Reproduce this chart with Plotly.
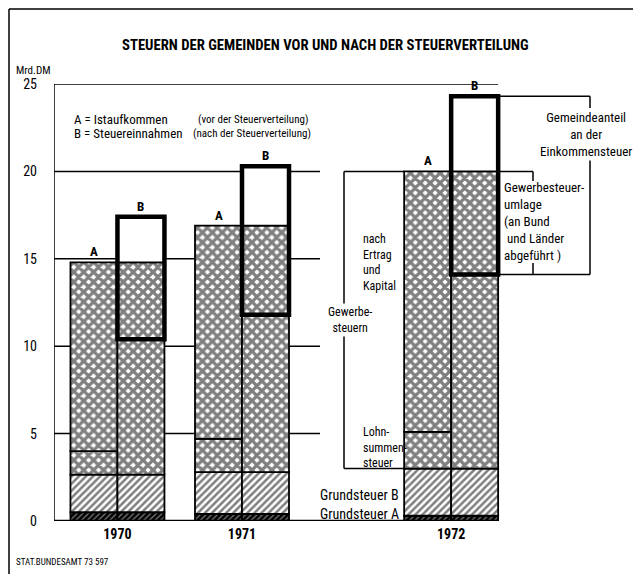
import plotly.graph_objects as go

# Werte in Mrd. DM
years = ['1970', '1971', '1972']
grundsteuer_a = [0.5, 0.4, 0.3]
grundsteuer_b = [2.15, 2.4, 2.7]
lohnsummensteuer = [1.35, 1.9, 2.1]
gewerbesteuer_ek = [10.8, 12.2, 14.9]      # nach Ertrag und Kapital
gewerbesteuerumlage = [4.4, 5.1, 5.9]      # an Bund und Länder abgeführt
gemeindeanteil_est = [2.6, 3.4, 4.3]       # Gemeindeanteil an der Einkommensteuer
y_ticks = [0, 5, 10, 15, 20, 25]

# abgeleitete Höhen
grund_top = [a + b for a, b in zip(grundsteuer_a, grundsteuer_b)]
lohn_top = [g + l for g, l in zip(grund_top, lohnsummensteuer)]
ist_a = [l + g for l, g in zip(lohn_top, gewerbesteuer_ek)]
b_top = [a + g for a, g in zip(ist_a, gemeindeanteil_est)]
box_base = [a - u for a, u in zip(ist_a, gewerbesteuerumlage)]

# Layout: Koordinaten in Pixeln des Fensters; die Seite hat 8px Rand
OFF = 8
W, H = 641 - OFF, 574 - OFF
PL, PT, PB, PR = 54, 84, 521, 641          # Zeichenfläche im Fenster
ML, MT, MB, MR = PL - OFF, PT - OFF, 574 - PB, 0
PW, PH = PR - PL, PB - PT
BAR_PX = 47
Y_MAX = 25
X_MAX = PW / BAR_PX
GROUP_X = [1.35, 4.0, 8.45]
xa = [c - 0.5 for c in GROUP_X]
xb = [c + 0.5 for c in GROUP_X]

FONT = 'Roboto Condensed, Liberation Sans Narrow, DejaVu Sans Condensed, Roboto, sans-serif'


def px(p):
    return (p - PL) / PW


def py(p):
    return (PB - p) / PH


def ux(p):
    return (p - PL) / BAR_PX


def uy(p):
    return (PB - p) / PH * Y_MAX


CROSS = dict(shape='x', size=7, solidity=0.72, fgcolor='black', bgcolor='white')
HATCH = dict(shape='/', size=5, solidity=0.5, fgcolor='black', bgcolor='white')
DARK = dict(shape='/', size=4, solidity=0.3, fgcolor='white', bgcolor='black')


def seg(x, base, h, pattern=None, color='white', lw=1.8):
    return go.Bar(x=x, base=base, y=h, width=1,
                  marker=dict(color=color, pattern=pattern,
                              line=dict(color='black', width=lw)),
                  showlegend=False, hoverinfo='skip')


fig = go.Figure()
fig.add_trace(seg(xa + xb, [0] * 6, grundsteuer_a * 2, DARK, 'black'))
fig.add_trace(seg(xa + xb, grundsteuer_a * 2, grundsteuer_b * 2, HATCH))
fig.add_trace(seg(xa, grund_top, lohnsummensteuer, CROSS))
fig.add_trace(seg(xa, lohn_top, gewerbesteuer_ek, CROSS))
fig.add_trace(seg(xb, grund_top, [i - g for i, g in zip(ist_a, grund_top)], CROSS))
fig.add_trace(seg(xb, ist_a, gemeindeanteil_est))
fig.add_trace(seg(xb, box_base, [u + g for u, g in zip(gewerbesteuerumlage, gemeindeanteil_est)],
                  color='rgba(0,0,0,0)', lw=4.5))

shapes = []


def line(x0, y0, x1, y1, w=1.5, xref='x', yref='y', layer='above'):
    shapes.append(dict(type='line', x0=x0, y0=y0, x1=x1, y1=y1, xref=xref, yref=yref,
                       layer=layer, line=dict(color='black', width=w)))


# Rahmen und Achsen
line(px(OFF + 1), py(OFF + 1), px(OFF + 1), py(574), 1.5, 'paper', 'paper')
line(px(OFF + 1), py(OFF + 1), px(641), py(OFF + 1), 1.5, 'paper', 'paper')
line(0, 0, 0, Y_MAX, 1.5)
line(0, 0, xb[2] + 0.5, 0, 2.5)
line(0, Y_MAX, xb[2] + 0.5, Y_MAX, 1.5)
for t in y_ticks[1:-1]:
    line(0, t, ux(320), t, 1.5, layer='below')

# Klammer links von 1972
line(ux(344), ist_a[2], xa[2] - 0.5, ist_a[2])
line(ux(344), ist_a[2], ux(344), grund_top[2])
line(ux(344), grund_top[2], xa[2] - 0.5, grund_top[2])

# Klammern rechts von 1972
r = xb[2] + 0.5
line(r, b_top[2], ux(590), b_top[2])
line(ux(590), b_top[2], ux(590), uy(108))
line(ux(590), uy(157), ux(590), box_base[2])
line(r, box_base[2], ux(590), box_base[2])
line(r, ist_a[2], ux(533), ist_a[2])
line(ux(533), ist_a[2], ux(533), uy(181))
line(ux(533), uy(263), ux(533), box_base[2])

ann = []


def text(t, x, y, size=13, anchor='left', xref='paper', yref='paper', bg=None, bold=False, **kw):
    if bold:
        t = '<b>' + t + '</b>'
    a = dict(text=t, x=x, y=y, xref=xref, yref=yref, xanchor=anchor, yanchor='middle',
             showarrow=False, font=dict(family=FONT, size=size, color='black'), **kw)
    if bg:
        a['bgcolor'] = bg
    ann.append(a)


text('STEUERN DER GEMEINDEN VOR UND NACH DER STEUERVERTEILUNG', px(325), py(45), 14.7, 'center', bold=True)
text('Mrd.DM', px(14), py(70), 11)
text('STAT.BUNDESAMT 73 597', px(14), py(562), 9)

text('A = Istaufkommen', px(72), py(120), 13)
text('(vor der Steuerverteilung)', px(196), py(120), 11)
text('B = Steuereinnahmen', px(72), py(134), 13)
text('(nach der Steuerverteilung)', px(191), py(134), 11)

# A/B-Beschriftung der Säulen
for i in range(3):
    text('A', xa[i], ist_a[i] + 0.6, 13, 'center', 'x', 'y', bold=True)
    yb = b_top[i] + 0.6
    if yb < Y_MAX:
        text('B', xb[i], yb, 13, 'center', 'x', 'y', bold=True)
    else:
        text('B', xb[i] + 0.05, Y_MAX, 13, 'center', 'x', 'y', bg='white', bold=True)

text('nach<br>Ertrag<br>und<br>Kapital', px(361), py(262), 12, align='left')
text('Gewerbe-<br>steuern', px(350), py(320), 12, 'center', bg='white')
text('Lohn-<br>summen-<br>steuer', px(361), py(447), 12, align='left')
text('Grundsteuer B', px(401), py(495), 14, 'right')
text('Grundsteuer A', px(401), py(514), 14, 'right')
text('Gemeindeanteil<br>an der<br>Einkommensteuer', px(586), py(135), 13, 'center', bg='white')
text('Gewerbesteuer-<br>umlage<br>(an Bund<br> und Länder<br>abgeführt )', px(502), py(221), 13, align='left')

fig.update_layout(
    width=W, height=H,
    margin=dict(l=ML, r=MR, t=MT, b=MB),
    barmode='overlay',
    plot_bgcolor='white', paper_bgcolor='white',
    font=dict(family=FONT, size=13, color='black'),
    shapes=shapes, annotations=ann,
    xaxis=dict(range=[0, X_MAX], tickvals=GROUP_X, ticktext=['<b>' + y + '</b>' for y in years],
               showgrid=False, zeroline=False, showline=False, ticks='',
               ticklabelstandoff=3, tickfont=dict(family=FONT, size=14)),
    yaxis=dict(range=[0, Y_MAX], tickvals=y_ticks, ticktext=[str(t) for t in y_ticks],
               showgrid=False, zeroline=False, showline=False, ticks='',
               ticklabelstandoff=16, tickfont=dict(family=FONT, size=14)),
)

fig.write_html("out.html")
